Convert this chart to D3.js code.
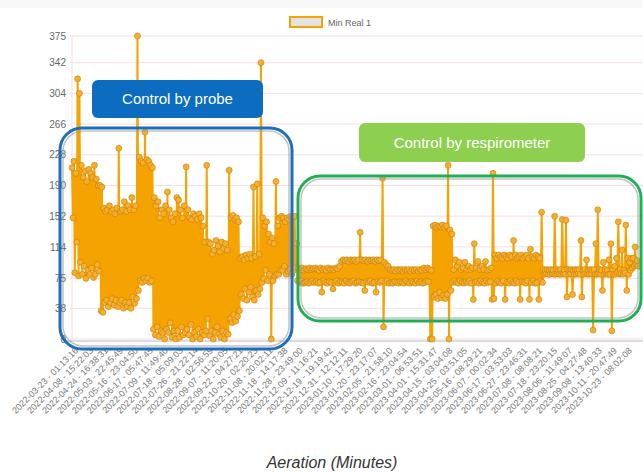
<!DOCTYPE html>
<html>
<head>
<meta charset="utf-8">
<script src="https://cdn.jsdelivr.net/npm/d3@7"></script>
<style>
  html, body { margin: 0; padding: 0; background: #fff; }
  svg { display: block; font-family: "Liberation Sans", Arial, sans-serif; }
</style>
</head>
<body>
<div id="chart"></div>
<script>
// Series "Min Real 1" (aeration minutes).
// Readings come in [high, low] pairs per slot, in time order.
const minReal1 = [
  [212,150],[220,82],[205,120],[322,78],[304,95],[215,80],[200,90],[208,75],[195,85],[210,80],
  [205,88],[200,76],[215,80],[198,92],[190,84],[190,35],[188,33],[162,45],[158,48],[160,40],
  [165,45],[158,50],[160,42],[155,48],[162,40],[236,45],[158,48],[160,38],[170,45],[158,40],
  [165,45],[160,38],[175,52],[160,44],[165,50],[375,60],[225,72],[220,70],[218,75],[256,72],
  [222,75],[220,70],[215,72],[212,12],[175,5],[165,15],[170,3],[150,10],[160,8],[155,0],
  [165,12],[182,8],[160,20],[150,2],[145,10],[155,0],[175,10],[172,2],[160,15],[150,5],
  [165,8],[213,12],[160,5],[150,18],[148,0],[155,8],[152,3],[148,12],[155,0],[150,8],
  [140,5],[120,10],[215,25],[120,4],[118,10],[105,0],[110,8],[122,15],[115,6],[108,2],
  [120,10],[112,0],[118,8],[110,6],[209,25],[150,20],[153,30],[148,22],[150,28],[145,35],
  [100,55],[102,50],[98,62],[104,48],[100,58],[105,64],[100,52],[188,48],[102,60],[192,55],
  [105,62],[342,70],[150,75],[140,85],[145,72],[130,80],[120,0],[125,72],[118,78],[195,80],
  [140,80],[150,85],[152,85],[150,90],[145,80],[150,84],[148,86],[152,80],[150,85],[152,88],
  [118,72],[88,70],[86,72],[88,69],[85,70],[87,71],[86,69],[88,70],[86,72],[87,70],
  [88,71],[86,69],[85,70],[88,58],[86,72],[87,70],[85,69],[88,71],[86,70],[87,62],
  [86,70],[88,72],[87,69],[90,71],[96,70],[98,69],[97,72],[98,70],[96,69],[98,71],
  [97,72],[98,69],[96,70],[98,71],[132,70],[98,69],[97,60],[98,71],[96,70],[98,72],
  [97,69],[98,70],[96,58],[98,71],[97,70],[98,72],[199,15],[95,70],[92,72],[90,69],
  [86,70],[85,69],[86,71],[84,70],[86,69],[85,71],[86,70],[84,69],[86,72],[85,70],
  [86,69],[84,71],[86,70],[85,69],[86,72],[84,70],[86,71],[85,69],[88,70],[86,72],
  [88,71],[86,0],[85,0],[140,52],[141,55],[138,50],[140,58],[139,51],[141,54],[138,50],
  [140,55],[215,0],[135,60],[130,70],[86,72],[98,70],[90,69],[95,72],[86,70],[88,69],
  [95,71],[86,70],[90,72],[86,69],[88,49],[118,70],[88,71],[96,69],[86,72],[90,70],
  [86,69],[96,72],[85,70],[86,71],[88,49],[205,50],[104,69],[100,72],[104,70],[102,69],
  [100,72],[104,49],[102,70],[100,69],[104,72],[102,70],[122,69],[104,72],[100,70],[102,49],
  [104,71],[100,70],[102,69],[104,72],[100,49],[111,70],[102,72],[100,69],[104,70],[102,49],
  [100,72],[157,70],[86,80],[85,81],[86,80],[85,80],[86,81],[85,80],[152,80],[86,81],
  [85,80],[86,80],[148,81],[85,80],[147,52],[86,80],[85,81],[86,55],[85,80],[86,80],
  [85,81],[86,80],[122,52],[85,80],[86,81],[98,80],[85,80],[86,81],[85,11],[86,80],
  [118,80],[160,81],[86,80],[85,60],[95,80],[86,81],[85,80],[98,80],[118,10],[86,80],
  [90,80],[100,82],[145,80],[86,81],[110,80],[85,82],[141,60],[100,80],[95,85],[100,88],
  [100,90],[114,92],[97,90]
];

// x tick labels shown (every 8th slot)
const xLabels = [
  "2022-03-23 - 01:13:16", "2022-04-08 - 15:22:03", "2022-04-24 - 16:38:31",
  "2022-05-03 - 22:45:49", "2022-05-16 - 23:04:50", "2022-06-17 - 05:47:45",
  "2022-07-09 - 11:49:40", "2022-07-18 - 05:09:03", "2022-07-26 - 21:22:14",
  "2022-08-28 - 02:56:59", "2022-09-07 - 11:20:05", "2022-09-22 - 04:27:21",
  "2022-10-20 - 02:20:23", "2022-11-08 - 20:02:11", "2022-11-18 - 14:17:38",
  "2022-11-28 - 23:49:00", "2022-12-09 - 11:16:21", "2022-12-19 - 19:19:42",
  "2022-12-31 - 12:12:11", "2023-01-10 - 17:29:20", "2023-01-20 - 23:17:07",
  "2023-02-05 - 21:58:10", "2023-02-16 - 23:04:54", "2023-03-01 - 06:53:51",
  "2023-04-01 - 15:31:47", "2023-04-15 - 03:04:08", "2023-04-25 - 03:51:05",
  "2023-05-16 - 08:29:21", "2023-06-07 - 00:02:34", "2023-06-17 - 03:53:03",
  "2023-06-27 - 23:46:31", "2023-07-08 - 08:08:21", "2023-07-18 - 23:20:15",
  "2023-08-06 - 11:49:07", "2023-08-25 - 04:27:48", "2023-09-08 - 13:40:33",
  "2023-10-11 - 20:47:49", "2023-10-23 - 08:02:08"
];
const labelStep = 8;

const yTicks = [0, 38, 75, 114, 152, 190, 228, 266, 304, 342, 375];

const seriesName = "Min Real 1";
const xTitle = "Aeration (Minutes)";
const regions = [
  { name: "Control by probe", stroke: "#1d6fbd", fill: "#0b6cc0",
    box: [60, 128, 292, 349], label: [92, 80, 263, 118] },
  { name: "Control by respirometer", stroke: "#21ae55", fill: "#8dcf4f",
    box: [298, 176, 641, 321], label: [359, 123, 585, 162] }
];

const width = 643, height = 472;
const margin = { top: 36, right: 5, bottom: 133, left: 72 };

// flatten the pairs into the plotted points, half a slot apart
const points = [];
minReal1.forEach((p, i) => {
  points.push({ t: i, v: p[0] });
  points.push({ t: i + 0.5, v: p[1] });
});

const svg = d3.select('#chart')
  .append('svg')
  .attr('width', width)
  .attr('height', height);

svg.append('rect')
  .attr('width', width).attr('height', 8)
  .attr('fill', '#f8f8f8');

// Scales
const x = d3.scaleLinear()
  .domain([0, minReal1.length - 0.5])
  .range([margin.left, width - margin.right]);

const y = d3.scaleLinear()
  .domain([0, 375])
  .range([height - margin.bottom, margin.top]);

// Grid
svg.append('g')
  .selectAll('line')
  .data(yTicks)
  .enter()
  .append('line')
  .attr('x1', margin.left - 2)
  .attr('x2', width)
  .attr('y1', d => y(d))
  .attr('y2', d => y(d))
  .attr('stroke', '#f6dde3')
  .attr('stroke-width', 1);

svg.append('line')
  .attr('x1', margin.left).attr('x2', margin.left)
  .attr('y1', margin.top).attr('y2', y(0))
  .attr('stroke', '#f6dde3');

// Y axis
const yAxis = d3.axisLeft(y)
  .tickValues(yTicks)
  .tickSize(0)
  .tickPadding(6);

svg.append('g')
  .attr('transform', `translate(${margin.left},0)`)
  .call(yAxis)
  .call(g => g.select('.domain').remove())
  .call(g => g.selectAll('text')
    .attr('fill', '#666')
    .attr('font-size', 10)
    .attr('font-family', '"Liberation Sans", Arial, sans-serif'));

// X axis line
svg.append('line')
  .attr('x1', margin.left - 8).attr('x2', width)
  .attr('y1', y(0) + 2).attr('y2', y(0) + 2)
  .attr('stroke', '#dcdcdc')
  .attr('stroke-width', 2);

// X tick labels
const tickIdx = xLabels.map((d, i) => i * labelStep);
const xAxis = d3.axisBottom(x)
  .tickValues(tickIdx)
  .tickSize(0)
  .tickFormat((d, i) => xLabels[i]);

svg.append('g')
  .attr('transform', `translate(0,${y(0) + 6})`)
  .call(xAxis)
  .call(g => g.select('.domain').remove())
  .call(g => g.selectAll('text')
    .attr('fill', '#777')
    .attr('font-size', 9)
    .attr('font-family', '"Liberation Sans", Arial, sans-serif')
    .attr('text-anchor', 'end')
    .attr('dy', '0.35em')
    .attr('y', 0)
    .attr('transform', 'translate(4,4) rotate(-45)'));

// Line
const line = d3.line()
  .x(d => x(d.t))
  .y(d => y(d.v));

svg.append('path')
  .datum(points)
  .attr('fill', 'none')
  .attr('stroke', '#f5a300')
  .attr('stroke-width', 2)
  .attr('d', line);

svg.append('g')
  .selectAll('circle')
  .data(points)
  .enter()
  .append('circle')
  .attr('cx', d => x(d.t))
  .attr('cy', d => y(d.v))
  .attr('r', 3)
  .attr('fill', '#f8ae2a')
  .attr('stroke', '#b87800')
  .attr('stroke-opacity', 0.5)
  .attr('stroke-width', 1);

// Legend
svg.append('rect')
  .attr('x', 290).attr('y', 17)
  .attr('width', 32).attr('height', 10)
  .attr('fill', '#e2e2e2')
  .attr('stroke', '#f5a300')
  .attr('stroke-width', 2);

svg.append('text')
  .attr('x', 328).attr('y', 25.5)
  .attr('font-size', 9)
  .attr('fill', '#666')
  .text(seriesName);

// Region annotations
regions.forEach(r => {
  const [x0, y0, x1, y1] = r.box;
  // soft gray shadow inside the outline
  svg.append('rect')
    .attr('x', x0 + 3).attr('y', y0 + 3)
    .attr('width', x1 - x0 - 6).attr('height', y1 - y0 - 6)
    .attr('rx', 20)
    .attr('fill', 'none')
    .attr('stroke', '#9a9a9a')
    .attr('stroke-opacity', 0.6)
    .attr('stroke-width', 1.5);
  svg.append('rect')
    .attr('x', x0).attr('y', y0)
    .attr('width', x1 - x0).attr('height', y1 - y0)
    .attr('rx', 22)
    .attr('fill', 'none')
    .attr('stroke', r.stroke)
    .attr('stroke-width', 3);

  const [lx0, ly0, lx1, ly1] = r.label;
  svg.append('rect')
    .attr('x', lx0).attr('y', ly0)
    .attr('width', lx1 - lx0).attr('height', ly1 - ly0)
    .attr('rx', 6)
    .attr('fill', r.fill);
  svg.append('text')
    .attr('x', (lx0 + lx1) / 2)
    .attr('y', (ly0 + ly1) / 2 + 5)
    .attr('text-anchor', 'middle')
    .attr('font-size', 15)
    .attr('fill', '#fff')
    .text(r.name);
});

// X axis title
svg.append('text')
  .attr('x', 332).attr('y', 468)
  .attr('text-anchor', 'middle')
  .attr('font-size', 16)
  .attr('font-style', 'italic')
  .attr('fill', '#333')
  .text(xTitle);
</script>
</body>
</html>
